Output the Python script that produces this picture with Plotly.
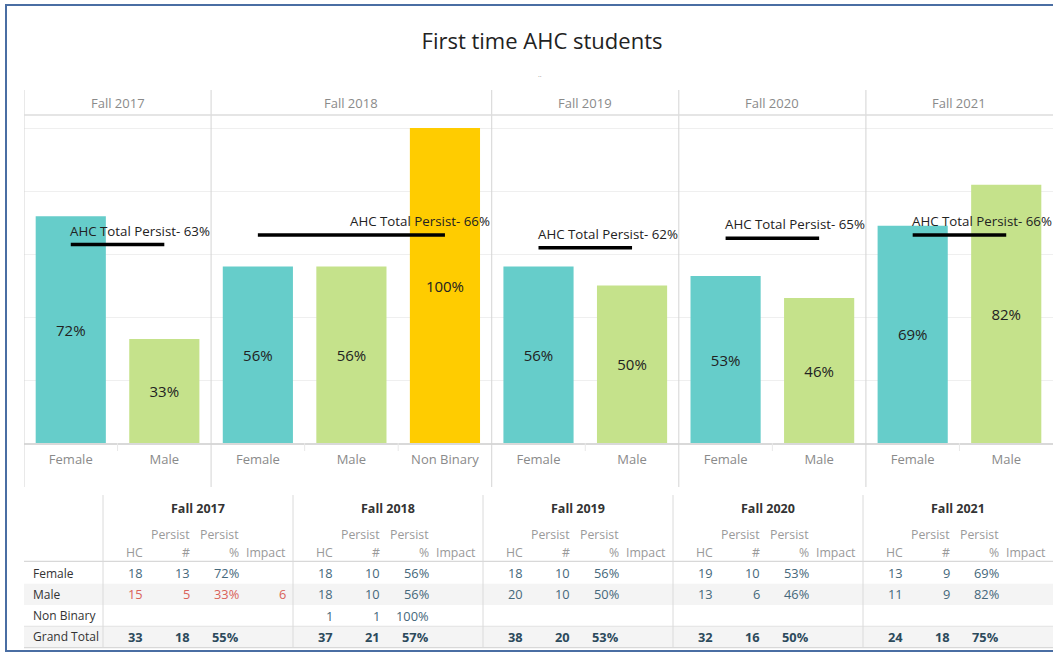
import plotly.graph_objects as go

W, H = 1053, 654
FONT = "Open Sans"

# ---------------- data ----------------
years = ["Fall 2017", "Fall 2018", "Fall 2019", "Fall 2020", "Fall 2021"]
genders_by_year = [
    ["Female", "Male"],
    ["Female", "Male", "Non Binary"],
    ["Female", "Male"],
    ["Female", "Male"],
    ["Female", "Male"],
]
persist_pct_by_year = [
    [72, 33],
    [56, 56, 100],
    [56, 50],
    [53, 46],
    [69, 82],
]
ahc_total_persist = [63, 66, 62, 65, 66]
ref_label_anchor = [0, 1, 0, 0, 0]   # which bar in the panel the reference label starts at

# table
row_labels = ["Female", "Male", "Non Binary", "Grand Total"]
table_hc = [
    [18, 15, None, 33],
    [18, 18, 1, 37],
    [18, 20, None, 38],
    [19, 13, None, 32],
    [13, 11, None, 24],
]
table_persist_n = [
    [13, 5, None, 18],
    [10, 10, 1, 21],
    [10, 10, None, 20],
    [10, 6, None, 16],
    [9, 9, None, 18],
]
table_persist_pct = [
    [72, 33, None, 55],
    [56, 56, 100, 57],
    [56, 50, None, 53],
    [53, 46, None, 50],
    [69, 82, None, 75],
]
table_impact = [
    [None, 6, None, None],
    [None, None, None, None],
    [None, None, None, None],
    [None, None, None, None],
    [None, None, None, None],
]
highlight_rows = [[1], [], [], [], []]   # rows shown in red

color_map = {"Female": "#66CDCA", "Male": "#C5E28B", "Non Binary": "#FFCC00"}

# ---------------- helpers ----------------
def py(y):
    return 1 - y / H

def pxx(x):
    return x / W

# ---------------- bars ----------------
x_idx, x_lab, vals, cols, panels = [], [], [], [], []
i = 0
for yr, gs, ps in zip(years, genders_by_year, persist_pct_by_year):
    start = i
    for g, p in zip(gs, ps):
        x_idx.append(i)
        x_lab.append(g)
        vals.append(p)
        cols.append(color_map[g])
        i += 1
    panels.append((start, i - 1))

fig = go.Figure()
fig.add_trace(go.Bar(
    x=x_idx, y=vals, width=0.75,
    marker=dict(color=cols, line=dict(width=0)),
    text=[f"{v}%" for v in vals], textposition="inside",
    insidetextanchor="middle", textangle=0,
    textfont=dict(size=15, color="#222222", family=FONT),
    hoverinfo="skip", showlegend=False,
))

annotations = []
shapes = []

for (s, e), tot, anc in zip(panels, ahc_total_persist, ref_label_anchor):
    fig.add_trace(go.Scatter(
        x=[s, e], y=[tot, tot], mode="lines",
        line=dict(color="black", width=3.5),
        hoverinfo="skip", showlegend=False,
    ))
    annotations.append(dict(
        x=s + anc, y=tot, xref="x", yref="y", xanchor="left", yanchor="bottom",
        yshift=3, xshift=-3, showarrow=False,
        text=f"AHC Total Persist- {tot}%",
        font=dict(size=13.3, color="#222222", family=FONT),
    ))

# panel headers, separators and small boundary ticks
for (s, e), yr in zip(panels, years):
    annotations.append(dict(
        x=(s + e) / 2, y=py(103), xref="x", yref="paper",
        xanchor="center", yanchor="middle", showarrow=False,
        text=yr, font=dict(size=13, color="#8a8a8a", family=FONT),
    ))
    shapes.append(dict(type="line", xref="x", yref="paper",
                       x0=s - 0.5, x1=s - 0.5, y0=py(487), y1=py(90),
                       line=dict(color="#d4d4d4", width=1)))
    for b in range(s, e):
        shapes.append(dict(type="line", xref="x", yref="paper",
                           x0=b + 0.5, x1=b + 0.5, y0=py(451), y1=py(443),
                           line=dict(color="#e8e8e8", width=1)))
shapes.append(dict(type="line", xref="x", yref="paper",
                   x0=-0.5, x1=len(x_idx) - 0.5, y0=py(115), y1=py(115),
                   line=dict(color="#dcdcdc", width=1.5)))

# ---------------- table ----------------
GX0 = -79 / 190.0
col_off = [0.221, 0.471, 0.726, 0.974]
hdr_top = ["", "Persist", "Persist", ""]
hdr_bot = ["HC", "#", "%", "Impact"]

# row shading
for r in (1, 3):
    shapes.append(dict(type="rect", xref="x2", yref="y2", x0=GX0, x1=5,
                       y0=r - 0.5, y1=r + 0.5, fillcolor="#f4f4f4",
                       line=dict(width=0), layer="below"))
# horizontal lines
for yv, c in ((-0.55, "#d8d8d8"), (2.5, "#e2e2e2"), (3.5, "#d8d8d8")):
    shapes.append(dict(type="line", xref="x2", yref="y2", x0=GX0, x1=5,
                       y0=yv, y1=yv, line=dict(color=c, width=1.2)))
# vertical separators
for g in range(len(years)):
    shapes.append(dict(type="line", xref="x2", yref="y2", x0=g, x1=g,
                       y0=-3.66, y1=3.5, line=dict(color="#dadada", width=1)))

for r, lab in enumerate(row_labels):
    annotations.append(dict(
        x=GX0 + 7 / 190, y=r, xref="x2", yref="y2", xanchor="left", yanchor="middle",
        showarrow=False, text=lab,
        font=dict(size=12, color="#333333", family=FONT),
    ))

for g, yr in enumerate(years):
    annotations.append(dict(
        x=g + 0.5, y=-3.05, xref="x2", yref="y2", xanchor="center", yanchor="middle",
        showarrow=False, text=f"<b>{yr}</b>",
        font=dict(size=12.5, color="#333333", family=FONT),
    ))
    for c in range(4):
        if hdr_top[c]:
            annotations.append(dict(
                x=g + col_off[c], y=-1.83, xref="x2", yref="y2", xanchor="right",
                yanchor="middle", showarrow=False, text=hdr_top[c],
                font=dict(size=12.3, color="#9a9a9a", family=FONT)))
        annotations.append(dict(
            x=g + col_off[c], y=-0.94, xref="x2", yref="y2", xanchor="right",
            yanchor="middle", showarrow=False, text=hdr_bot[c],
            font=dict(size=12.3, color="#9a9a9a", family=FONT)))
    cols_data = [table_hc[g], table_persist_n[g], table_persist_pct[g], table_impact[g]]
    for c, colvals in enumerate(cols_data):
        for r, v in enumerate(colvals):
            if v is None:
                continue
            txt = f"{v}%" if c == 2 else f"{v}"
            color = "#d9625a" if r in highlight_rows[g] else "#46687b"
            if r == 3:
                txt = f"<b>{txt}</b>"
                color = "#2c4a5c"
            annotations.append(dict(
                x=g + col_off[c], y=r, xref="x2", yref="y2", xanchor="right",
                yanchor="middle", showarrow=False, text=txt,
                font=dict(size=12.8, color=color, family=FONT)))

# title extras and frame
annotations.append(dict(x=pxx(540), y=py(68), xref="paper", yref="paper",
                        showarrow=False, text="..", font=dict(size=7, color="#999999", family=FONT)))
shapes.append(dict(type="rect", xref="paper", yref="paper",
                   x0=pxx(6), x1=pxx(1060), y0=py(651), y1=py(5),
                   line=dict(color="#4a6ea3", width=2), fillcolor="rgba(0,0,0,0)"))

fig.update_layout(
    width=W, height=H,
    margin=dict(l=0, r=0, t=0, b=0),
    paper_bgcolor="white", plot_bgcolor="white",
    showlegend=False,
    title=dict(text="First time AHC students", x=pxx(542), xanchor="center",
               y=py(41), yanchor="middle", yref="container",
               font=dict(size=22, color="#222222", family=FONT)),
    xaxis=dict(domain=[24 / W, 1], range=[-0.5, len(x_idx) - 0.5],
               tickmode="array", tickvals=x_idx, ticktext=x_lab,
               showgrid=False, zeroline=False, showline=True,
               linecolor="#d9d9d9", linewidth=1.5, ticks="",
               tickfont=dict(size=13, color="#8a8a8a", family=FONT),
               ticklabelstandoff=4),
    yaxis=dict(domain=[py(443), py(115)], range=[0, (443 - 115) / 315 * 100],
               tickmode="array", tickvals=[0, 20, 40, 60, 80, 100],
               showticklabels=False, gridcolor="#efefef", zeroline=False),
    xaxis2=dict(domain=[24 / W, 1], range=[GX0, 5], anchor="y2", visible=False),
    yaxis2=dict(domain=[py(650), py(495)],
                range=[(650 - 573) / 21.3, (495 - 573) / 21.3],
                anchor="x2", visible=False),
    annotations=annotations,
    shapes=shapes,
)

fig.write_html(
    "out.html",
    config={"displayModeBar": False},
    post_script="document.body.style.margin='0';document.body.style.overflow='hidden';",
)
